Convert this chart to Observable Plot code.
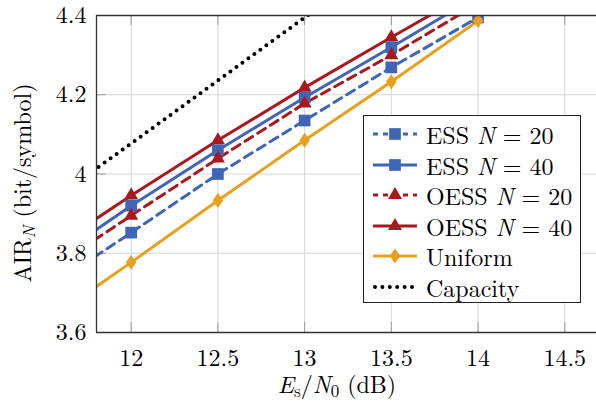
<!DOCTYPE html>
<html><head><meta charset="utf-8">
<script src="https://cdn.jsdelivr.net/npm/d3@7"></script>
<script src="https://cdn.jsdelivr.net/npm/@observablehq/plot@0.6"></script>
<style>
body{margin:0;background:#fff;}
#wrap{position:relative;width:596px;height:404px;overflow:hidden;font-family:"Latin Modern Roman","Liberation Serif",serif;}
#legend{position:absolute;left:363px;top:115px;width:218px;height:188px;border:1.5px solid #222;background:#fff;box-sizing:border-box;}
.row{position:absolute;left:8px;height:30px;display:flex;align-items:center;font-size:24px;color:#000;white-space:nowrap;font-family:"Latin Modern Roman","Liberation Serif",serif;}
.row svg{margin-right:8px;}
.row span.lab{display:inline-block;height:24px;line-height:24px;overflow:visible;}
</style></head><body><div id="wrap"></div>
<script>
// ---- data ----
const xs = [11.5, 12, 12.5, 13, 13.5, 14];
const ess20 = [3.707, 3.852, 4.000, 4.135, 4.269, 4.395];
const ess40 = [3.770, 3.920, 4.060, 4.193, 4.320, 4.450];
const oess20 = [3.750, 3.895, 4.039, 4.178, 4.300, 4.430];
const oess40 = [3.800, 3.946, 4.085, 4.218, 4.345, 4.470];
const uniform = [3.625, 3.777, 3.933, 4.085, 4.233, 4.387];
const capX = [11.5, 12, 12.5, 13, 13.5];
const capacity = [3.920, 4.077, 4.236, 4.395, 4.550];
const xTicks = [12, 12.5, 13, 13.5, 14, 14.5];
const yTicks = [3.6, 3.8, 4, 4.2, 4.4];
const names = ["ESS", "ESS", "OESS", "OESS", "Uniform", "Capacity"];
const nVals = [20, 40, 20, 40, null, null];

const xDomain = [11.8, 14.683];
const yDomain = [3.6, 4.4];

const W = 596, H = 404, ML = 96, MR = 0, MT = 15, MB = 72, TICK = 10;
const FONT = "'Latin Modern Roman','Liberation Serif',serif";
const blue = "#3F66B4", red = "#A8191E", orange = "#E8A11F";
const diamond = {draw(ctx, size){const s=Math.sqrt(size);const w=0.48*s,h=0.68*s;ctx.moveTo(0,-h);ctx.lineTo(w,0);ctx.lineTo(0,h);ctx.lineTo(-w,0);ctx.closePath();}};
const series = [
  {vals: ess20, color: blue, dash: "9 6", symbol: "square", r: 6.6},
  {vals: ess40, color: blue, dash: null, symbol: "square", r: 6.6},
  {vals: oess20, color: red, dash: "9 6", symbol: "triangle", r: 5.2},
  {vals: oess40, color: red, dash: null, symbol: "triangle", r: 5.2},
  {vals: uniform, color: orange, dash: null, symbol: diamond, r: 6.2}
];
const frameH = H - MT - MB, frameW = W - ML - MR;

const marks = [
  Plot.gridX(xTicks, {stroke: "#d6d6d6", strokeOpacity: 1, strokeWidth: 1}),
  Plot.gridY(yTicks, {stroke: "#d6d6d6", strokeOpacity: 1, strokeWidth: 1}),
  Plot.tickX(xTicks, {x: d => d, stroke: "#9a9a9a", insetTop: frameH - TICK}),
  Plot.tickX(xTicks, {x: d => d, stroke: "#9a9a9a", insetBottom: frameH - TICK}),
  Plot.tickY(yTicks, {y: d => d, stroke: "#9a9a9a", insetRight: frameW - TICK}),
  Plot.axisX(xTicks, {anchor: "bottom", tickSize: 0, tickPadding: 16, tickFormat: d => String(d), label: null, fontSize: 24, fontFamily: FONT}),
  Plot.axisY(yTicks, {anchor: "left", tickSize: 0, tickPadding: 10, tickFormat: d => String(d), label: null, fontSize: 24, fontFamily: FONT}),
  Plot.line(capX.map((x, i) => ({x, y: capacity[i]})), {x: "x", y: "y", stroke: "#000", strokeWidth: 4, strokeDasharray: "0 7.4", strokeLinecap: "round", clip: true})
];
for (const s of series) {
  const rows = xs.map((x, i) => ({x, y: s.vals[i]}));
  marks.push(Plot.line(rows, {x: "x", y: "y", stroke: s.color, strokeWidth: 3, strokeDasharray: s.dash, clip: true}));
}
for (const s of series) {
  const rows = xs.map((x, i) => ({x, y: s.vals[i]}));
  marks.push(Plot.dot(rows, {x: "x", y: "y", fill: s.color, stroke: "none", symbol: s.symbol, r: s.r, clip: true}));
}
marks.push(Plot.ruleY(yDomain, {stroke: "#333", strokeWidth: 1.3}));
marks.push(Plot.ruleX([xDomain[0]], {stroke: "#333", strokeWidth: 1.3}));

const chart = Plot.plot({
  width: W, height: H,
  marginLeft: ML, marginRight: MR, marginTop: MT, marginBottom: MB,
  x: {domain: xDomain},
  y: {domain: yDomain},
  style: {fontFamily: FONT, fontSize: "24px", background: "#fff", color: "#000"},
  marks
});
const wrap = document.getElementById("wrap");
wrap.appendChild(chart);

// axis labels with math styling
const svg = d3.select(chart);
const xl = svg.append("text").attr("x", 337).attr("y", 393).attr("text-anchor", "middle").attr("font-size", 24).attr("font-family", FONT).attr("fill", "#000");
xl.append("tspan").attr("font-style", "italic").text("E");
xl.append("tspan").attr("font-size", 17).attr("dy", 4).text("s");
xl.append("tspan").attr("dy", -4).text("/");
xl.append("tspan").attr("font-style", "italic").text("N");
xl.append("tspan").attr("font-size", 17).attr("dy", 4).text("0");
xl.append("tspan").attr("dy", -4).text(" (dB)");

const yl = svg.append("text").attr("transform", "translate(31,183) rotate(-90)").attr("text-anchor", "middle").attr("font-size", 24).attr("font-family", FONT).attr("fill", "#000");
yl.append("tspan").text("AIR");
yl.append("tspan").attr("font-size", 17).attr("font-style", "italic").attr("dy", 4).text("N");
yl.append("tspan").attr("dy", -4).text(" (bit/symbol)");

// legend
const leg = document.createElement("div");
leg.id = "legend";
wrap.appendChild(leg);
const legendItems = series.map((s, i) => ({...s, name: names[i], n: nVals[i]}))
  .concat([{name: names[5], n: nVals[5], color: "#000", dash: "0 7.4", symbol: null, cap: true}]);
legendItems.forEach((it, i) => {
  const row = document.createElement("div");
  row.className = "row";
  row.style.top = (3 + i * 30.5) + "px";
  const ns = "http://www.w3.org/2000/svg";
  const sw = document.createElementNS(ns, "svg");
  sw.setAttribute("width", 46); sw.setAttribute("height", 30);
  const ln = document.createElementNS(ns, "line");
  ln.setAttribute("x1", it.cap ? 3 : 1); ln.setAttribute("x2", 45); ln.setAttribute("y1", 15); ln.setAttribute("y2", 15);
  ln.setAttribute("stroke", it.color); ln.setAttribute("stroke-width", it.cap ? 4 : 3);
  if (it.dash) ln.setAttribute("stroke-dasharray", it.cap ? "0 7.4" : "5 5");
  if (it.cap) ln.setAttribute("stroke-linecap", "round");
  sw.appendChild(ln);
  if (it.symbol) {
    const typ = typeof it.symbol === "string" ? ({square: d3.symbolSquare, triangle: d3.symbolTriangle})[it.symbol] : it.symbol;
    const p = document.createElementNS(ns, "path");
    p.setAttribute("d", d3.symbol(typ, it.r * it.r * Math.PI)());
    p.setAttribute("transform", "translate(23,15)");
    p.setAttribute("fill", it.color);
    sw.appendChild(p);
  }
  row.appendChild(sw);
  const t = document.createElement("span");
  t.className = "lab";
  if (it.n !== null) {
    t.innerHTML = it.name + " <i>N</i> = " + it.n;
  } else {
    t.textContent = it.name;
  }
  row.appendChild(t);
  leg.appendChild(row);
});
</script></body></html>
